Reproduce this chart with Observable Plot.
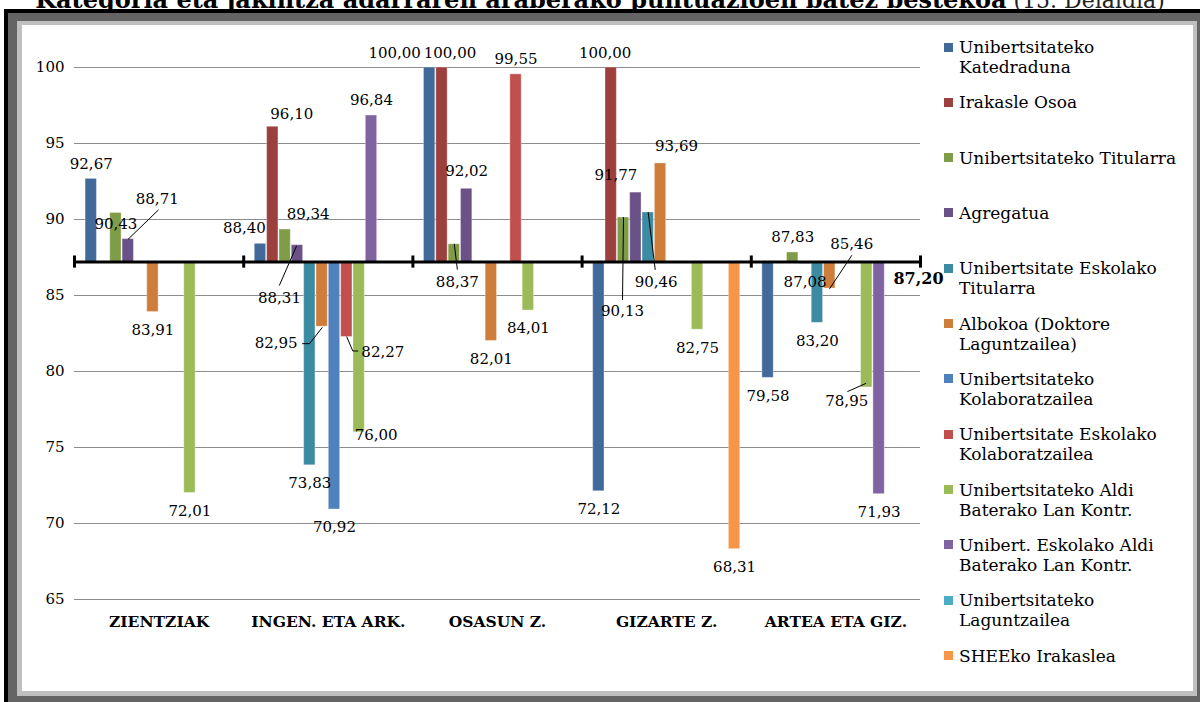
<!DOCTYPE html>
<html><head><meta charset="utf-8">
<script src="https://cdn.jsdelivr.net/npm/d3@7"></script>
<script src="https://cdn.jsdelivr.net/npm/@observablehq/plot@0.6"></script>
<style>
html,body{margin:0;padding:0;width:1200px;height:702px;overflow:hidden;background:#fff;font-family:"DejaVu Serif",serif;color:#000;}
#title{position:absolute;left:0;width:1200px;top:-12px;text-align:center;font-size:24px;line-height:24px;white-space:nowrap;z-index:0;}
#title b{font-weight:bold}
#title span{font-weight:normal;font-size:22px;color:#222}
.box{position:absolute;z-index:1}
#chart{position:absolute;left:0;top:0;z-index:2}
#legend{position:absolute;left:944px;top:0;z-index:3}
.item{position:absolute;left:0;width:250px;font-size:17px;line-height:20px;white-space:pre-line}
.sw{position:absolute;left:0;top:5.5px;width:9px;height:9px}
.lt{position:absolute;left:15px;top:0;white-space:pre}
</style></head><body>
<div id="title"></div>
<div class="box" style="left:4px;top:9px;width:1200px;height:700px;background:#000"></div>
<div class="box" style="left:8px;top:13px;width:1200px;height:700px;background:#646464"></div>
<div class="box" style="left:17px;top:21px;width:1180px;height:675px;background:#bfbfbf"></div>
<div class="box" style="left:22px;top:25px;width:1171px;height:666px;background:#fff"></div>
<div id="chart"></div>
<div id="legend"></div>
<script>
// ---------- data ----------
const titleBold = "Kategoria eta jakintza adarraren araberako puntuazioen batez bestekoa";
const titleNormal = " (15. Deialdia)";
const categories = ["ZIENTZIAK", "INGEN. ETA ARK.", "OSASUN Z.", "GIZARTE Z.", "ARTEA ETA GIZ."];
const series = [
  "Unibertsitateko Katedraduna", "Irakasle Osoa", "Unibertsitateko Titularra", "Agregatua",
  "Unibertsitate Eskolako Titularra", "Albokoa (Doktore Laguntzailea)", "Unibertsitateko Kolaboratzailea",
  "Unibertsitate Eskolako Kolaboratzailea", "Unibertsitateko Aldi Baterako Lan Kontr.",
  "Unibert. Eskolako Aldi Baterako Lan Kontr.", "Unibertsitateko Laguntzailea", "SHEEko Irakaslea"
];
const legendLabels = [
  "Unibertsitateko\nKatedraduna", "Irakasle Osoa", "Unibertsitateko Titularra", "Agregatua",
  "Unibertsitate Eskolako\nTitularra", "Albokoa (Doktore\nLaguntzailea)", "Unibertsitateko\nKolaboratzailea",
  "Unibertsitate Eskolako\nKolaboratzailea", "Unibertsitateko Aldi\nBaterako Lan Kontr.",
  "Unibert. Eskolako Aldi\nBaterako Lan Kontr.", "Unibertsitateko\nLaguntzailea", "SHEEko Irakaslea"
];
const colors = ["#416999", "#9d3f3d", "#7f9c49", "#6a5187", "#3b8ca3", "#cf7d3a",
                "#4f81bd", "#c0504d", "#9bbb59", "#8064a2", "#4bacc6", "#f79646"];
// values per category, in series order (null = no bar)
const zientziak   = [92.67, null, 90.43, 88.71, null, 83.91, null, null, 72.01, null, null, null];
const ingenEtaArk = [88.40, 96.10, 89.34, 88.31, 73.83, 82.95, 70.92, 82.27, 76.00, 96.84, null, null];
const osasun      = [100.00, 100.00, 88.37, 92.02, null, 82.01, null, 99.55, 84.01, null, null, null];
const gizarte     = [72.12, 100.00, 90.13, 91.77, 90.46, 93.69, null, null, 82.75, null, null, 68.31];
const arteaEtaGiz = [79.58, null, 87.83, 87.08, 83.20, 85.46, null, null, 78.95, 71.93, null, null];
const valuesByCategory = [zientziak, ingenEtaArk, osasun, gizarte, arteaEtaGiz];
const baseline = 87.20;
const yTicks = [65, 70, 75, 80, 85, 90, 95, 100];

// ---------- layout ----------
const W = 1200, H = 702, mL = 74, mR = 280, mT = 67, mB = 103;
const pxX = (W - mL - mR) / categories.length;  // px per category unit
const pxY = (H - mT - mB) / (100 - 65);         // px per value unit
const groupPad = 0.0625;
const slot = (1 - 2 * groupPad) / series.length;
const barFrac = 0.92;
const fmt = v => v.toFixed(2).replace(".", ",");

// label placement tweaks (pixels, relative to bar centre / bar end)
const labelTweaks = {
  "0-2": {dx: 0, dy: 11},
  "0-3": {dx: 29, dy: -40, leader: [[0, 0], [30, -29]]},
  "1-0": {dx: -16, dy: -16},
  "1-1": {dx: 19, dy: -13},
  "1-2": {dx: 23, dy: -15},
  "1-3": {dx: -18, dy: 53, leader: [[-1, 1], [-18, 40]]},
  "1-5": {dx: -46, dy: 17, leader: [[0, 1], [-12.6, 17], [-19.6, 17]]},
  "1-7": {dx: 36, dy: 15, leader: [[0, 0], [6, 14], [11, 14]]},
  "1-8": {dx: 17, dy: 3},
  "2-0": {dx: -35, dy: -14},
  "2-1": {dx: 8, dy: -14},
  "2-2": {dx: 3, dy: 38, leader: [[0, 0], [3, 25]]},
  "2-3": {dx: 0, dy: -18},
  "3-1": {dx: -6, dy: -14},
  "3-2": {dx: -1, dy: 94, leader: [[0, 0], [-1, 82]]},
  "3-3": {dx: -20, dy: -17},
  "3-4": {dx: 8, dy: 70, leader: [[0, 0], [7, 57]]},
  "3-5": {dx: 16, dy: -17},
  "4-5": {dx: 22, dy: -44, leader: [[0, 0], [22, -33]]},
  "4-8": {dx: -20, dy: 14, leader: [[-1, -4], [-19, 4]]}
};

const rows = [];
valuesByCategory.forEach((vals, ci) => vals.forEach((v, si) => {
  if (v == null) return;
  const start = ci + groupPad + si * slot;
  rows.push({
    ci, si, cat: categories[ci], series: series[si], value: v,
    x1: start + slot * (1 - barFrac) / 2, x2: start + slot * (1 + barFrac) / 2,
    xc: start + slot / 2
  });
}));

const labels = [], leaders = [];
rows.forEach(r => {
  const key = r.ci + "-" + r.si;
  const t = labelTweaks[key] || {dx: 0, dy: r.value >= baseline ? -15 : 18};
  labels.push({lx: r.xc + t.dx / pxX, ly: r.value - t.dy / pxY, t: fmt(r.value)});
  if (t.leader) t.leader.forEach(([px, py]) => leaders.push({id: key, x: r.xc + px / pxX, y: r.value - py / pxY}));
});

// ---------- title ----------
const title = document.getElementById("title");
const tb = document.createElement("b"); tb.textContent = titleBold; title.appendChild(tb);
const tn = document.createElement("span"); tn.textContent = titleNormal; title.appendChild(tn);

// ---------- chart ----------
const chart = Plot.plot({
  width: W, height: H,
  marginLeft: mL, marginRight: mR, marginTop: mT, marginBottom: mB,
  style: {background: "transparent", fontFamily: "DejaVu Serif", fontSize: "15px", color: "#000", overflow: "visible"},
  x: {domain: [0, categories.length], axis: null},
  y: {domain: [65, 100], ticks: yTicks, tickSize: 0, tickPadding: 10, label: null, tickFormat: d => String(d)},
  color: {domain: series, range: colors},
  marks: [
    Plot.ruleY(yTicks, {stroke: "#8c8c8c", strokeWidth: 1}),
    Plot.rect(rows, {x1: "x1", x2: "x2", y1: () => baseline, y2: "value", fill: "series", stroke: "#fff", strokeOpacity: 0.35, strokeWidth: 1}),
    Plot.ruleY([baseline], {stroke: "#000", strokeWidth: 3}),
    Plot.ruleX(d3.range(categories.length + 1), {x: d => d, y1: () => baseline - 0.4, y2: () => baseline + 0.4, stroke: "#000", strokeWidth: 3}),
    Plot.line(leaders, {x: "x", y: "y", z: "id", stroke: "#000", strokeWidth: 1}),
    Plot.text(labels, {x: "lx", y: "ly", text: "t", fontSize: 15, fill: "#000"}),
    Plot.text(categories, {x: (d, i) => i + 0.5, y: () => 65, dy: 23, text: d => d, fontWeight: "bold", fontSize: 15.5, fill: "#000"}),
    Plot.text([baseline], {x: () => categories.length, y: d => d, dy: 17, dx: -2, text: d => fmt(d), fontWeight: "bold", fontSize: 16, fill: "#000"})
  ]
});
document.getElementById("chart").appendChild(chart);

// ---------- legend ----------
const legend = document.getElementById("legend");
legendLabels.forEach((lab, i) => {
  const item = document.createElement("div");
  item.className = "item";
  item.style.top = (37 + i * 55.33) + "px";
  const sw = document.createElement("div");
  sw.className = "sw"; sw.style.background = colors[i];
  const lt = document.createElement("div");
  lt.className = "lt"; lt.textContent = lab;
  item.appendChild(sw); item.appendChild(lt);
  legend.appendChild(item);
});
</script>
</body></html>
